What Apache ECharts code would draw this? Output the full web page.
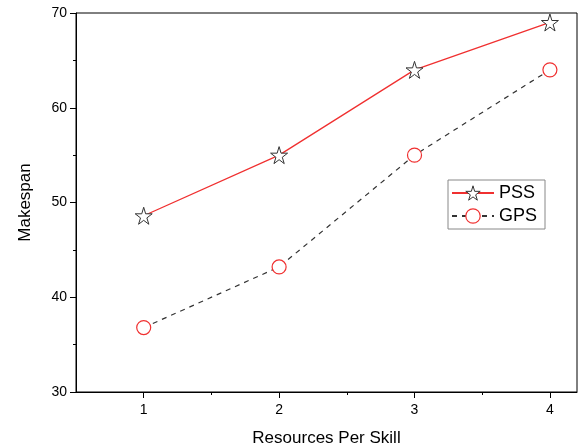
<!DOCTYPE html>
<html>
<head>
<meta charset="utf-8">
<script src="https://cdn.jsdelivr.net/npm/echarts@6/dist/echarts.min.js"></script>
<style>
html, body { margin: 0; padding: 0; background: #fff; }
#main { width: 580px; height: 447px; }
</style>
</head>
<body>
<div id="main"></div>
<script>
var xValues = [1, 2, 3, 4];
var pss = [48.6, 55, 64, 69];
var gps = [36.8, 43.2, 55, 64];
var xMajorTicks = [1, 2, 3, 4];

var starPath = 'path://M50,0 L61,35 L98,35 L68,57 L79,91 L50,70 L21,91 L32,57 L2,35 L39,35 Z';
var font = 'Liberation Sans, Arial, sans-serif';
var red = '#f03030';

function pairs(xs, ys) {
    return xs.map(function (x, i) { return [x, ys[i]]; });
}

var chart = echarts.init(document.getElementById('main'));
chart.setOption({
    animation: false,
    grid: {left: 76, right: 3, top: 13, bottom: 55, outerBoundsMode: 'none', containLabel: false,
        show: true, borderColor: '#000', borderWidth: 1},
    xAxis: [
        {
            type: 'value', min: 0.5, max: 4.2, interval: 0.5,
            name: 'Resources Per Skill', nameLocation: 'middle', nameGap: 38,
            nameTextStyle: {fontFamily: font, fontSize: 17, color: '#000'},
            axisLine: {lineStyle: {color: '#000', width: 1}},
            axisTick: {length: 3, lineStyle: {color: '#000'}},
            axisLabel: {
                fontFamily: font, fontSize: 14, color: '#000', margin: 11,
                showMinLabel: false, showMaxLabel: false,
                formatter: function (v) { return v % 1 === 0 ? String(v) : ''; }
            },
            splitLine: {show: false}
        },
        {
            type: 'value', min: 0.5, max: 4.2, position: 'bottom',
            axisLine: {show: false},
            axisTick: {customValues: xMajorTicks, length: 6, lineStyle: {color: '#000'}},
            axisLabel: {show: false},
            splitLine: {show: false}
        }
    ],
    yAxis: {
        type: 'value', min: 30, max: 70, interval: 10,
        name: 'Makespan', nameLocation: 'middle', nameGap: 42,
        nameTextStyle: {fontFamily: font, fontSize: 17, color: '#000'},
        axisLine: {show: true, lineStyle: {color: '#000', width: 1}},
        axisTick: {length: 6, lineStyle: {color: '#000'}},
        minorTick: {show: true, splitNumber: 2, length: 3, lineStyle: {color: '#000'}},
        axisLabel: {fontFamily: font, fontSize: 14, color: '#000', margin: 9},
        splitLine: {show: false}
    },
    legend: {
        orient: 'vertical', left: 448, top: 180,
        borderColor: '#888', borderWidth: 1, padding: [4, 8, 4, 3],
        itemWidth: 42, itemHeight: 18, itemGap: 5,
        textStyle: {fontFamily: font, fontSize: 18, color: '#000'},
        data: [
            {name: 'PSS', itemStyle: {color: '#fff', borderColor: '#333', borderWidth: 1}},
            {name: 'GPS', itemStyle: {color: '#fff', borderColor: red, borderWidth: 1.2}}
        ]
    },
    series: [
        {
            name: 'PSS', type: 'line', data: pairs(xValues, pss),
            symbol: starPath, symbolSize: 17,
            lineStyle: {color: red, width: 1.3},
            itemStyle: {color: '#fff', borderColor: '#333', borderWidth: 1}
        },
        {
            name: 'GPS', type: 'line', data: pairs(xValues, gps),
            symbol: 'circle', symbolSize: 14,
            lineStyle: {color: '#333', width: 1.2, type: [5, 5]},
            itemStyle: {color: '#fff', borderColor: red, borderWidth: 1.2}
        }
    ]
});
</script>
</body>
</html>
